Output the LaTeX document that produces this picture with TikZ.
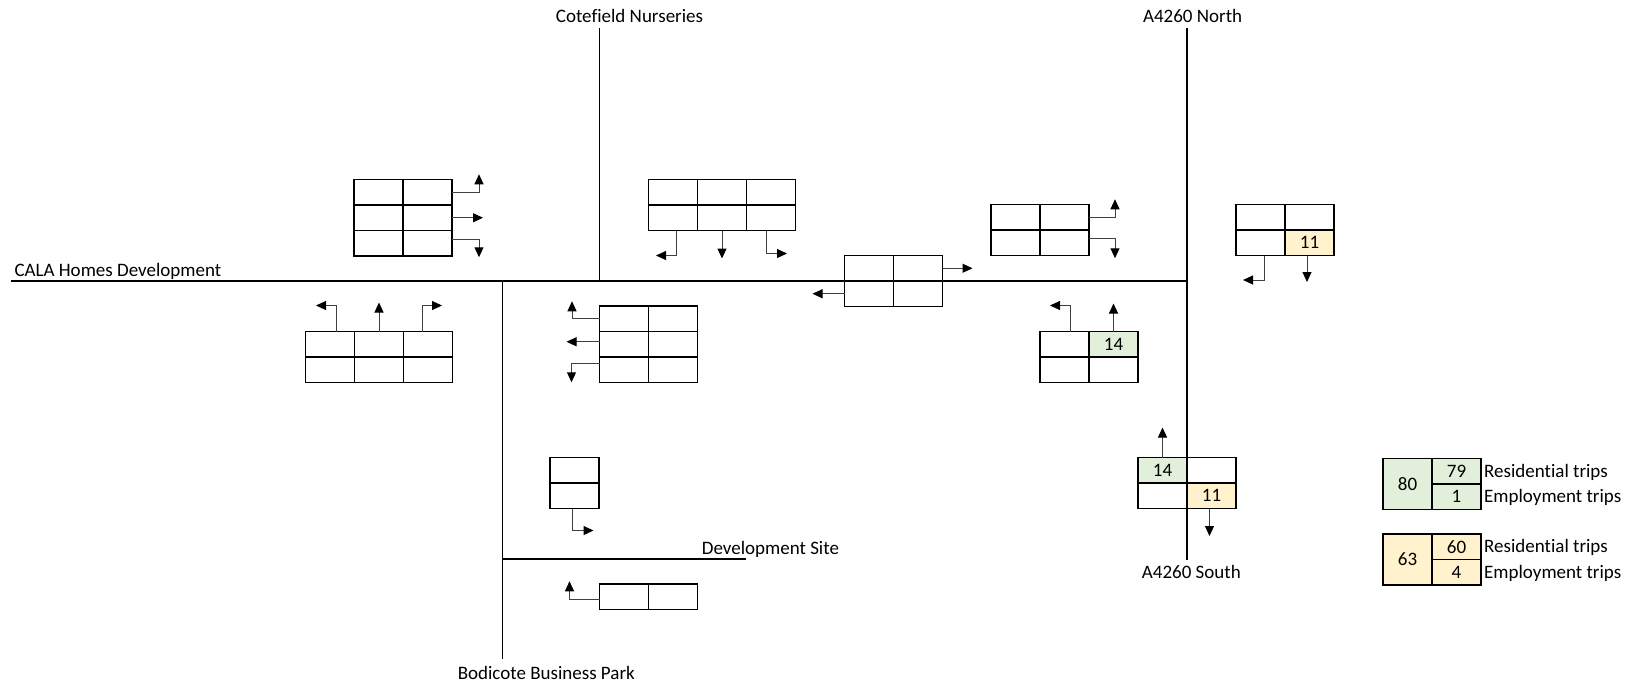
\documentclass[tikz,border=0pt]{standalone}
\usepackage{fontspec}
\setmainfont[Ligatures={TeX,NoCommon}]{Carlito}
\usetikzlibrary{arrows.meta,calc}
\definecolor{greencell}{HTML}{E2EFDA}
\definecolor{yellowcell}{HTML}{FFF2CC}

% grid of empty count cells: name, left, top, columns, rows
\newcommand{\countbox}[5]{%
  \foreach \r in {1,...,#5}{
    \foreach \c in {1,...,#4}{
      \node[cell] (#1-\r-\c) at ({#2+(\c-1)*49},{#3+(\r-1)*25.5}) {};
    }
  }%
}

\begin{document}
\begin{tikzpicture}[x=1pt, y=-1pt,
  every node/.style={font=\fontsize{19}{22}\selectfont},
  cell/.style={draw, line width=1.8pt, minimum width=49pt, minimum height=25.5pt, inner sep=0pt, outer sep=0pt, anchor=north west},
  road/.style={line width=1.8pt},
  flow/.style={line width=1pt, draw=black!75, -{Triangle[length=10pt, width=9pt, color=black]}},
  key/.style={anchor=west, inner sep=3pt, text height=12.2pt, text depth=0pt},
  place/.style={anchor=base, inner sep=0pt}]
  \useasboundingbox (0,0) rectangle (1641,686);

  % Road ends
  \coordinate (cala-w) at (11,281);
  \coordinate (cala-e) at (1187,281);
  \coordinate (cote-n) at (599.5,28);
  \coordinate (cote-s) at (599.5,281);
  \coordinate (a4260-n) at (1187,28);
  \coordinate (a4260-s) at (1187,560);
  \coordinate (bodi-n) at (502.5,281);
  \coordinate (bodi-s) at (502.5,659);
  \coordinate (site-w) at (502.5,559);
  \coordinate (site-e) at (746,559);

  % Roads
  \draw[road] (cala-w) -- (cala-e);
  \draw[road] (cote-n) -- (cote-s);
  \draw[road] (a4260-n) -- (a4260-s);
  \draw[road] (bodi-n) -- (bodi-s);
  \draw[road] (site-w) -- (site-e);

  % Road names
  \node[place] (cotefield) at (629.5,22) {Cotefield Nurseries};
  \node[place] (north) at (1192.6,22) {A4260 North};
  \node[place, anchor=base west] (cala) at (14.3,276.7) {CALA Homes Development};
  \node[place, anchor=base west] (devsite) at (701.7,554) {Development Site};
  \node[place] (south) at (1191.3,578.3) {A4260 South};
  \node[place] (bodicote) at (546.3,679.3) {Bodicote Business Park};

  % Count boxes
  \countbox{A}{354}{179.5}{2}{3}
  \countbox{B}{305.5}{331.5}{3}{2}
  \countbox{C}{648.5}{179.5}{3}{2}
  \countbox{D}{599.5}{306}{2}{3}
  \countbox{E}{844.5}{255.5}{2}{2}
  \countbox{F}{991}{204.5}{2}{2}
  \countbox{G}{1040}{331.5}{2}{2}
  \countbox{H}{1236}{204.5}{2}{2}
  \countbox{I}{1138}{457.5}{2}{2}
  \countbox{J}{550}{457.5}{1}{2}
  \countbox{K}{599.5}{584}{2}{1}

  % Filled counts
  \node[cell, anchor=center, fill=greencell] (G14) at (G-1-2.center) {14};
  \node[cell, anchor=center, fill=yellowcell] (H11) at (H-2-2.center) {11};
  \node[cell, anchor=center, fill=greencell] (I14) at (I-1-1.center) {14};
  \node[cell, anchor=center, fill=yellowcell] (I11) at (I-2-2.center) {11};

  % Turning movements
  \draw[flow] (A-1-2.east) -| ++(27,-18);
  \draw[flow] (A-2-2.east) -- ++(31,0);
  \draw[flow] ($(A-3-2.east)+(0,-4)$) -| ++(27,18);

  \draw[flow] ($(B-1-1.north)+(6,0)$) |- ++(-20,-26);
  \draw[flow] (B-1-2.north) -- ++(0,-29);
  \draw[flow] ($(B-1-3.north)+(-6,0)$) |- ++(20,-26);

  \draw[flow] ($(C-2-1.south)+(3,0)$) |- ++(-20,25);
  \draw[flow] (C-2-2.south) -- ++(0,28);
  \draw[flow] ($(C-2-3.south)+(-5,0)$) |- ++(21,23);

  \draw[flow] (D-1-1.west) -| ++(-27.5,-17.5);
  \draw[flow] ($(D-2-1.west)+(0,-2.5)$) -- ++(-33,0);
  \draw[flow] ($(D-3-1.west)+(0,-6.5)$) -| ++(-28,19);

  \draw[flow] (E-1-2.east) -- ++(30,0);
  \draw[flow] (E-2-1.west) -- ++(-32,0);

  \draw[flow] (F-1-2.east) -| ++(26,-18);
  \draw[flow] ($(F-2-2.east)+(0,-4)$) -| ++(26,19.5);

  \draw[flow] ($(G-1-1.north)+(6,0)$) |- ++(-20.5,-26);
  \draw[flow] (G14.north) -- ++(0,-28);

  \draw[flow] ($(H-2-1.south)+(3.5,0)$) |- ++(-21,24.5);
  \draw[flow] ($(H11.south)+(-2.5,0)$) -- ++(0,26.5);

  \draw[flow] (I14.north) -- ++(0,-30);
  \draw[flow] ($(I11.south)+(-2,0)$) -- ++(0,27.5);

  \draw[flow] ($(J-2-1.south)+(-2,0)$) |- ++(21,22);

  \draw[flow] ($(K-1-1.west)+(0,3)$) -| ++(-30,-18.5);

  % Legend
  \node[cell, fill=greencell, minimum height=51pt] (LG-tot) at (1383,458.5) {80};
  \node[cell, fill=greencell] (LG-res) at (1432,458.5) {79};
  \node[cell, fill=greencell] (LG-emp) at (1432,484) {1};
  \node[key] (LG-res-txt) at (LG-res.east) {Residential trips};
  \node[key] (LG-emp-txt) at (LG-emp.east) {Employment trips};

  \node[cell, fill=yellowcell, minimum height=51pt] (LY-tot) at (1383,534) {63};
  \node[cell, fill=yellowcell] (LY-res) at (1432,534) {60};
  \node[cell, fill=yellowcell] (LY-emp) at (1432,559.5) {4};
  \node[key] (LY-res-txt) at (LY-res.east) {Residential trips};
  \node[key] (LY-emp-txt) at (LY-emp.east) {Employment trips};
\end{tikzpicture}
\end{document}
